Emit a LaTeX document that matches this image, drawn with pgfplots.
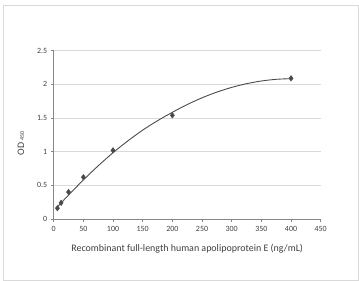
\documentclass[border=0pt]{standalone}
\usepackage{pgfplots}
\pgfplotsset{compat=1.18}
\usepackage{fontspec}
\setmainfont{Carlito}
\usetikzlibrary{calc}
\definecolor{gridc}{HTML}{D9D9D9}
\definecolor{axc}{HTML}{868686}
\definecolor{txt}{HTML}{404040}
\definecolor{mk}{HTML}{4A4A4A}
\begin{document}
\begin{tikzpicture}
\begin{axis}[name=ax, at={(0,0)}, anchor=south west,
  scale only axis, width=267bp, height=168.3bp,
  xmin=0, xmax=450, ymin=0, ymax=2.5,
  xtick={0,50,...,450}, ytick={0,0.5,...,2.5},
  axis x line*=bottom, axis y line*=left,
  axis line style={axc, line width=0.6pt, -},
  ymajorgrids, major grid style={gridc, line width=0.6pt},
  tick style={axc, line width=0.6pt},
  major tick length=3bp,
  xtick pos=bottom, ytick pos=left,
  tick align=outside,
  ticklabel style={font=\fontsize{8}{9}\selectfont, text=txt},
  xticklabel style={yshift=-1bp},
  /pgf/number format/assume math mode=true,
  yticklabel style={/pgf/number format/fixed},
  xlabel={Recombinant full-length human apolipoprotein E (ng/mL)},
  ylabel={OD\,{\fontsize{6}{7}\selectfont 450}},
  label style={font=\fontsize{10}{11}\selectfont, text=txt},
  xlabel style={at={(axis description cs:0.5,0)}, anchor=center, yshift=-30bp},
  ylabel style={at={(axis description cs:0,0.45)}, anchor=center, yshift=32.7bp},
  clip=false,
]
\addplot[mk, line width=0.9pt, smooth, no marks] coordinates {
(6,0.178) (25,0.355) (50,0.58) (75,0.79) (100,0.985) (125,1.16) (150,1.32) (175,1.46)
(200,1.585) (225,1.70) (250,1.80) (275,1.885) (300,1.955) (325,2.01) (350,2.05) (375,2.075) (400,2.085)};
\addplot[only marks, mark=diamond*, mark size=2.8bp, mk, mark options={fill=mk, draw=mk}] coordinates {
(6.25,0.16) (12.5,0.24) (25,0.40) (50,0.62) (100,1.02) (200,1.54) (400,2.09)};
\end{axis}
\path ($(ax.south west)+(-53.7bp,-62bp)$) rectangle ($(ax.south west)+(305.3bp,219bp)$);
\draw[gridc, line width=0.8pt] ($(ax.south west)+(-50.7bp,-61bp)$) rectangle ($(ax.south west)+(304.3bp,214bp)$);
\end{tikzpicture}
\end{document}
